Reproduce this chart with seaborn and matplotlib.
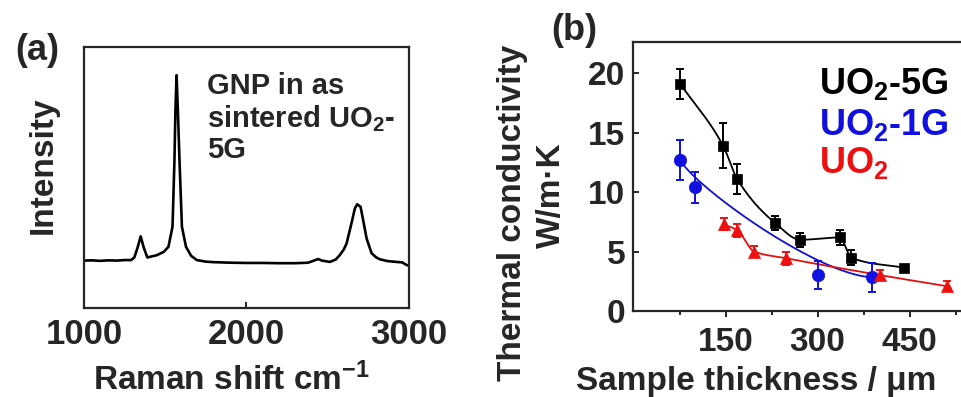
import numpy as np
import pandas as pd
import matplotlib
matplotlib.use('Agg')
import matplotlib.pyplot as plt
import seaborn as sns

# (a) Raman spectrum of GNP (arb. units)
raman_shift = [1000, 1050, 1100, 1150, 1200, 1250, 1290, 1310, 1330, 1349, 1368, 1390,
               1410, 1450, 1492, 1520, 1545, 1557, 1563, 1570, 1578, 1588, 1603, 1628,
               1660, 1695, 1750, 1800, 1900, 2000, 2100, 2200, 2300, 2380, 2420, 2442,
               2465, 2514, 2550, 2575, 2600, 2617, 2647, 2668, 2682, 2703, 2719, 2740,
               2771, 2800, 2822, 2870, 2924, 2960, 2986, 3000]
raman_intensity = [18.2, 18.3, 18.1, 18.3, 18.2, 18.4, 18.4, 19.4, 23.2, 27.5, 23.2, 19.4,
                   19.7, 20.3, 21.6, 23.5, 31.2, 56.7, 75.9, 89.3, 75.9, 56.7, 31.2, 23.5,
                   20.0, 18.4, 17.8, 17.6, 17.4, 17.3, 17.3, 17.2, 17.2, 17.4, 18.3, 18.8,
                   18.2, 17.7, 18.6, 20.3, 22.5, 24.8, 32.5, 38.2, 39.8, 38.8, 33.7, 26.7,
                   21.0, 19.4, 18.7, 18.0, 17.7, 17.5, 16.5, 16.3]

# (b) thermal conductivity vs sample thickness
thick_5g = [76, 146, 169, 231, 272, 336, 355, 441]
k_5g = [19.1, 13.9, 11.1, 7.4, 6.0, 6.2, 4.5, 3.65]
err_5g = [1.27, 1.9, 1.25, 0.56, 0.6, 0.6, 0.65, 0.2]

thick_1g = [76, 101, 300, 389]
k_1g = [12.7, 10.4, 3.04, 2.85]
err_1g = [1.67, 1.33, 1.2, 1.2]

thick_uo2 = [147, 169, 197, 249, 401, 511]
k_uo2 = [7.3, 6.8, 5.0, 4.45, 3.04, 2.1]
err_uo2 = [0.5, 0.55, 0.45, 0.55, 0.45, 0.4]


def pchip(x, y, xs):
    # monotone cubic through the points, like the smooth connect lines
    x = np.asarray(x, float)
    y = np.asarray(y, float)
    h = np.diff(x)
    d = np.diff(y) / h
    m = np.zeros_like(y)
    m[0], m[-1] = d[0], d[-1]
    for k in range(1, len(x) - 1):
        if d[k - 1] * d[k] > 0:
            w1 = 2 * h[k] + h[k - 1]
            w2 = h[k] + 2 * h[k - 1]
            m[k] = (w1 + w2) / (w1 / d[k - 1] + w2 / d[k])
    idx = np.clip(np.searchsorted(x, xs) - 1, 0, len(x) - 2)
    t = (xs - x[idx]) / h[idx]
    h00 = 2 * t**3 - 3 * t**2 + 1
    h10 = t**3 - 2 * t**2 + t
    h01 = -2 * t**3 + 3 * t**2
    h11 = t**3 - t**2
    return h00 * y[idx] + h10 * h[idx] * m[idx] + h01 * y[idx + 1] + h11 * h[idx] * m[idx + 1]


def bezier(x, y, n=300):
    # cubic Bezier using the 4 data points as control points (Origin "Bezier" connect)
    t = np.linspace(0, 1, n)[:, None]
    b = np.hstack([(1 - t)**3, 3 * (1 - t)**2 * t, 3 * (1 - t) * t**2, t**3])
    return b @ np.asarray(x, float), b @ np.asarray(y, float)


sns.set_style('ticks')
plt.rcParams['font.family'] = ['Liberation Sans', 'DejaVu Sans']
plt.rcParams['font.weight'] = 'bold'
plt.rcParams['mathtext.fontset'] = 'custom'
plt.rcParams['mathtext.rm'] = 'Liberation Sans:bold'
plt.rcParams['mathtext.bf'] = 'Liberation Sans:bold'
plt.rcParams['mathtext.default'] = 'bf'
plt.rcParams['axes.linewidth'] = 1.6

fig = plt.figure(figsize=(9.61, 3.97), dpi=100)
ax1 = fig.add_axes([0.0874, 0.224, 0.338, 0.657])
ax2 = fig.add_axes([0.6592, 0.216, 0.35, 0.678])

# ---- panel a
raman = pd.DataFrame({'shift': raman_shift, 'intensity': raman_intensity})
sns.lineplot(data=raman, x='shift', y='intensity', color='black', lw=1.9, ax=ax1)
ax1.set_xlim(1000, 3000)
ax1.set_ylim(0, 100)
ax1.set_xticks([1000, 2000, 3000])
ax1.set_yticks([])
ax1.tick_params(axis='x', direction='in', length=4, width=1.4, labelsize=25, pad=7)
ax1.set_xlabel('')
ax1.set_ylabel('')
ax1.text(0.378, 0.905, 'GNP in as\nsintered UO$_2$-\n5G', transform=ax1.transAxes,
         fontsize=21, fontweight='bold', va='top', ha='left', linespacing=1.12)

fig.text(0.0385, 0.874, '(a)', fontsize=26, fontweight='bold', ha='center', va='center')
fig.text(0.045, 0.584, 'Intensity', rotation=90, fontsize=24, fontweight='bold',
         ha='center', va='center')
fig.text(0.241, 0.043, 'Raman shift cm$^{-1}$', fontsize=24, fontweight='bold',
         ha='center', va='center')

# ---- panel b
xs_5g = np.linspace(min(thick_5g), max(thick_5g), 300)
xs_uo2 = np.linspace(min(thick_uo2), max(thick_uo2), 300)
bx_1g, by_1g = bezier(thick_1g, k_1g)

ax2.plot(xs_5g, pchip(thick_5g, k_5g, xs_5g), color='black', lw=1.3, zorder=2)
ax2.plot(bx_1g, by_1g, color='#1010d0', lw=1.3, zorder=2)
ax2.plot(xs_uo2, pchip(thick_uo2, k_uo2, xs_uo2), color='#e01010', lw=1.3, zorder=2)

series = [
    (thick_5g, k_5g, err_5g, 'black', 's', 60),
    (thick_1g, k_1g, err_1g, '#1010e0', 'o', 80),
    (thick_uo2, k_uo2, err_uo2, '#ee1010', '^', 75),
]
for xv, yv, ev, col, mk, sz in series:
    ax2.errorbar(xv, yv, yerr=ev, fmt='none', ecolor=col, elinewidth=1.4,
                 capsize=3, capthick=1.4, zorder=3)
    sns.scatterplot(x=xv, y=yv, color=col, marker=mk, s=sz, edgecolor=col,
                    linewidth=0.5, ax=ax2, zorder=4)

ax2.set_xlim(0, 548)
ax2.set_ylim(0, 22.6)
ax2.set_xticks([150, 300, 450])
ax2.set_xticks([75, 225, 375, 525], minor=True)
ax2.set_yticks([0, 5, 10, 15, 20])
ax2.tick_params(axis='x', which='major', direction='out', length=4, width=1.4,
                labelsize=24, pad=7)
ax2.tick_params(axis='x', which='minor', direction='out', length=3, width=1.4)
ax2.tick_params(axis='y', direction='in', length=4, width=1.4, labelsize=24, pad=6)
ax2.set_xlabel('')
ax2.set_ylabel('')

ax2.text(302, 18.2, 'UO$_2$-5G', color='black', fontsize=26, fontweight='bold', va='baseline')
ax2.text(302, 14.8, 'UO$_2$-1G', color='#1010e0', fontsize=26, fontweight='bold', va='baseline')
ax2.text(302, 11.6, 'UO$_2$', color='#ee1010', fontsize=26, fontweight='bold', va='baseline')

fig.text(0.598, 0.924, '(b)', fontsize=26, fontweight='bold', ha='center', va='center')
fig.text(0.533, 0.463, 'Thermal conductivity', rotation=90, fontsize=24,
         fontweight='bold', ha='center', va='center')
fig.text(0.574, 0.509, 'W/m\u00b7K', rotation=90, fontsize=24,
         fontweight='bold', ha='center', va='center')
fig.text(0.787, 0.038, 'Sample thickness / \u03bcm', fontsize=24, fontweight='bold',
         ha='center', va='center')

fig.savefig('out.png', dpi=100)
